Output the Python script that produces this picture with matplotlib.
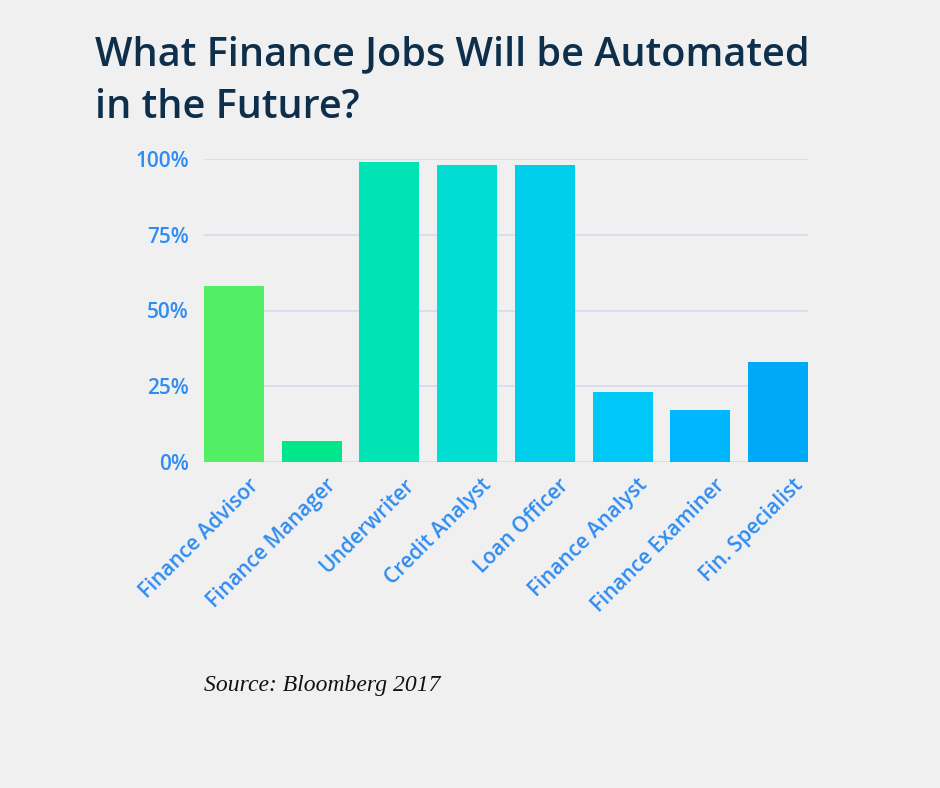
import matplotlib
matplotlib.use("Agg")
import matplotlib.pyplot as plt
import matplotlib.transforms as mtransforms

categories = ["Finance Advisor", "Finance Manager", "Underwriter", "Credit Analyst",
              "Loan Officer", "Finance Analyst", "Finance Examiner", "Fin. Specialist"]
values = [58, 7, 99, 98, 98, 23, 17, 33]
colors = ["#52EE63", "#00E68A", "#00E3B4", "#00DDD2",
          "#00CFEB", "#00C8F8", "#00B6FC", "#00A8F8"]
yticks = [0, 25, 50, 75, 100]
ytick_labels = ["0%", "25%", "50%", "75%", "100%"]
title = "What Finance Jobs Will be Automated\nin the Future?"
source = "Source: Bloomberg 2017"

bg = "#F0F0F0"
fig = plt.figure(figsize=(9.4, 7.88), dpi=100, facecolor=bg)
ax = fig.add_axes([204/940, 1-462/788, 604/940, 303/788])
ax.set_facecolor(bg)

x = list(range(len(categories)))
ax.bar(x, values, width=0.77, color=colors, zorder=3)
ax.set_xlim(-0.385, len(categories) - 1 + 0.385)
ax.set_ylim(0, 100)

ax.set_yticks(yticks)
ax.set_yticklabels(ytick_labels)
ax.yaxis.grid(True, color="#D3DCEC", linewidth=1.2, zorder=0)
ax.set_axisbelow(True)
for s in ax.spines.values():
    s.set_visible(False)
ax.tick_params(axis="both", length=0)
ax.tick_params(axis="y", pad=11)
for lab in ax.get_yticklabels():
    lab.set_fontsize(15)
    lab.set_color("#2F8CF2")
    lab.set_fontweight("semibold")
    lab.set_fontfamily("Open Sans")

ax.set_xticks(x)
ax.set_xticklabels(categories, rotation=45, ha="right", va="top", rotation_mode="anchor",
                   fontsize=15, color="#2F8CF2", fontfamily="Open Sans", fontweight="semibold")
offset = mtransforms.ScaledTranslation(14/100, -8/100, fig.dpi_scale_trans)
for lab in ax.get_xticklabels():
    lab.set_transform(lab.get_transform() + offset)

fig.text(95/940, 1-118/788, title, fontsize=28.5, color="#0E2F4C", fontfamily="Open Sans",
         fontweight="semibold", ha="left", va="baseline", linespacing=1.42)
fig.text(204/940, 1-691/788, source, fontsize=17, fontstyle="italic",
         fontfamily="Liberation Serif", color="#111111", ha="left", va="baseline")

fig.savefig("out.png", dpi=100, facecolor=bg)
